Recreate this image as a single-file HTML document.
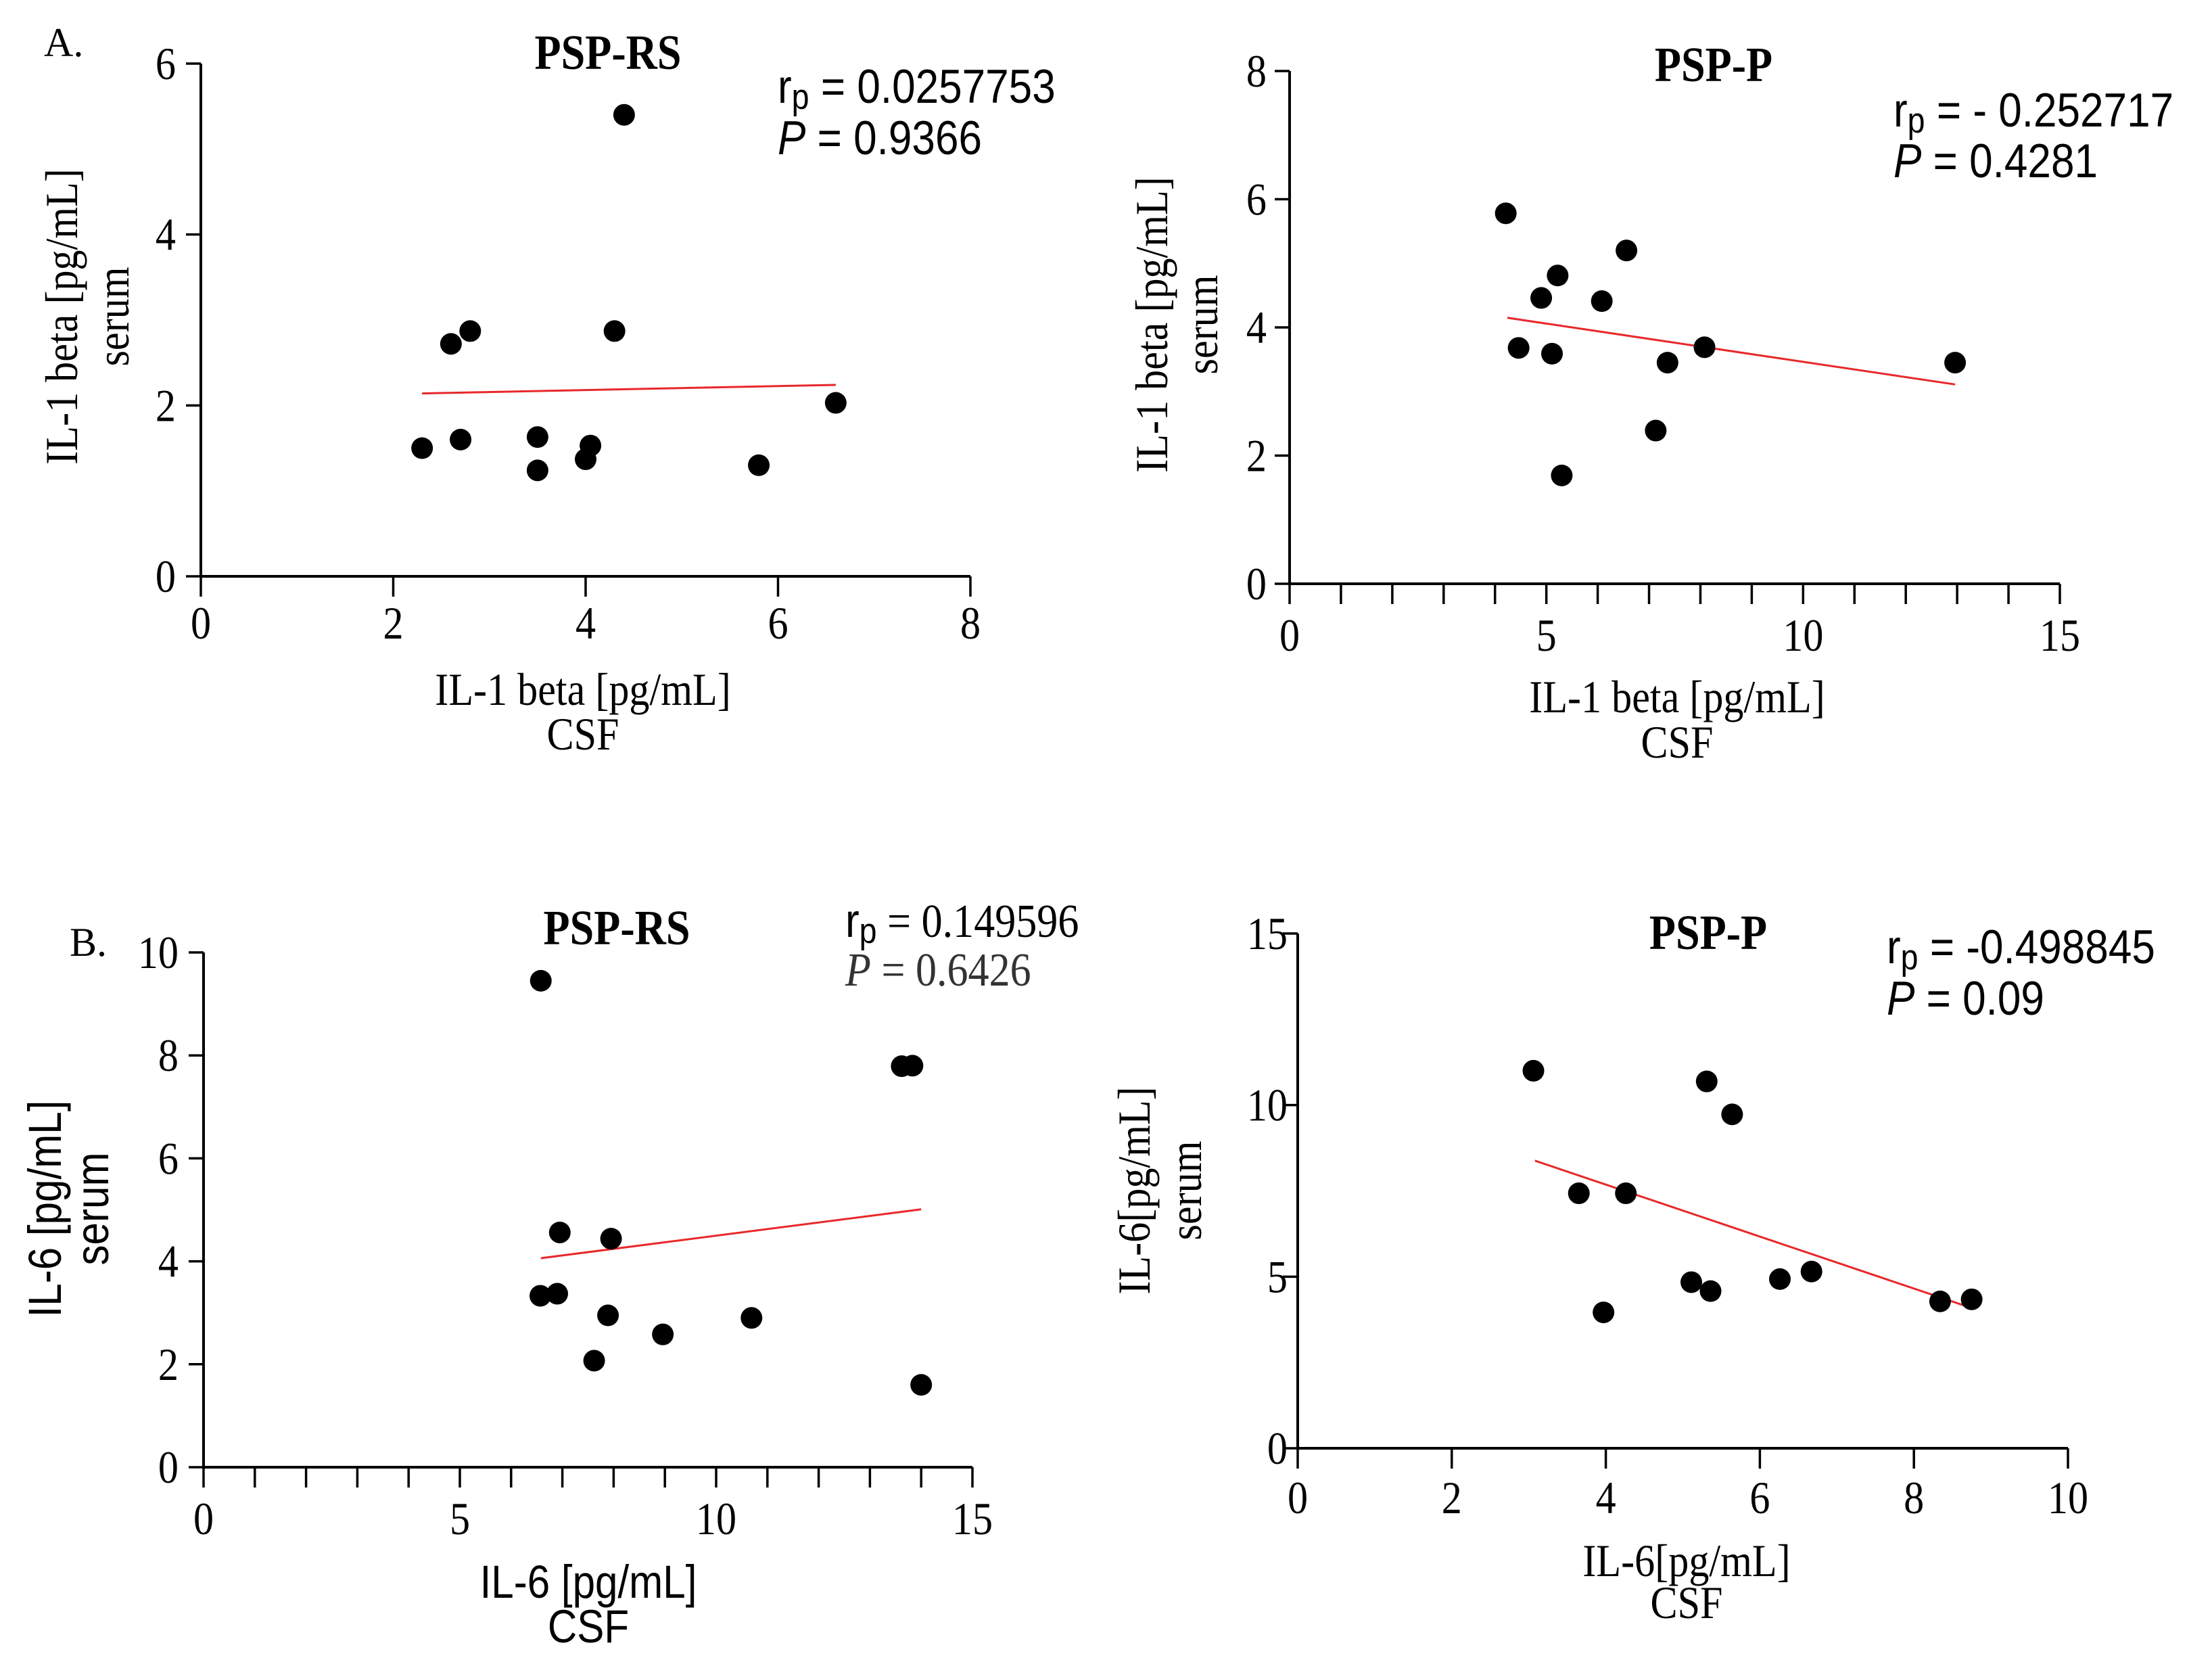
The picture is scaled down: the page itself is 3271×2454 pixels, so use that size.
<!DOCTYPE html>
<html><head><meta charset="utf-8">
<style>
html,body{margin:0;padding:0;background:#fff;}
svg{display:block;}
.serif{font-family:"Liberation Serif",serif;}
.sans{font-family:"Liberation Sans",sans-serif;}
</style></head>
<body>
<svg id="fig" width="3271" height="2454" viewBox="0 0 3271 2454" xmlns="http://www.w3.org/2000/svg">
<text x="65" y="83" class="serif" font-size="60">A.</text>
<text x="103" y="1413" class="serif" font-size="60">B.</text>
</svg>
<script>
// Panel A: IL-1 beta PSP-RS
const aCsf   = [2.3, 2.6, 2.8, 2.7, 3.5, 3.5, 4.3, 4.4, 4.05, 4.0, 5.8, 6.6];
const aSerum = [1.5, 2.72, 2.87, 1.6, 1.63, 1.24, 2.87, 5.4, 1.53, 1.37, 1.3, 2.03];
const aFitX  = [2.3, 6.6];
const aFitY  = [2.14, 2.24];
const aXTicks = [0, 2, 4, 6, 8];
const aYTicks = [0, 2, 4, 6];
// Panel B: IL-1 beta PSP-P
const bCsf   = [4.21, 4.9, 5.22, 6.56, 6.08, 4.46, 5.11, 8.08, 7.36, 12.96, 7.13, 5.3];
const bSerum = [5.78, 4.46, 4.81, 5.2, 4.41, 3.68, 3.59, 3.69, 3.45, 3.45, 2.39, 1.69];
const bFitX  = [4.24, 12.96];
const bFitY  = [4.15, 3.11];
const bXTicks = [0, 5, 10, 15];
const bYTicks = [0, 2, 4, 6, 8];
// Panel C: IL-6 PSP-RS
const cCsf   = [6.58, 6.95, 7.95, 6.57, 6.9, 7.89, 8.96, 10.69, 7.62, 13.62, 13.83, 14.0];
const cSerum = [9.45, 4.56, 4.44, 3.33, 3.37, 2.95, 2.58, 2.9, 2.07, 7.79, 7.8, 1.6];
const cFitX  = [6.58, 14.0];
const cFitY  = [4.06, 5.01];
const cXTicks = [0, 5, 10, 15];
const cYTicks = [0, 2, 4, 6, 8, 10];
// Panel D: IL-6 PSP-P
const dCsf   = [3.06, 5.31, 5.64, 3.65, 4.26, 3.97, 5.11, 5.36, 6.26, 6.67, 8.34, 8.75];
const dSerum = [11.0, 10.69, 9.73, 7.43, 7.43, 3.96, 4.84, 4.58, 4.93, 5.15, 4.28, 4.34];
const dFitX  = [3.08, 8.64];
const dFitY  = [8.38, 4.17];
const dXTicks = [0, 2, 4, 6, 8, 10];
const dYTicks = [0, 5, 10, 15];

const NS = "http://www.w3.org/2000/svg";
const svg = document.getElementById("fig");
function mk(tag, attrs, parent, text){
  const e = document.createElementNS(NS, tag);
  for (const k in attrs) e.setAttribute(k, attrs[k]);
  if (text !== undefined) e.textContent = text;
  (parent || svg).appendChild(e);
  return e;
}
function stretch(x, y){ return `translate(${x},${y}) scale(0.97,1.1)`; }

function panel(p){
  const g = mk("g", {});
  
  
  const sx = v => p.x0 + (v - p.xmin) / (p.xmax - p.xmin) * (p.x1 - p.x0);
  const sy = v => p.y0 - (v - p.ymin) / (p.ymax - p.ymin) * (p.y0 - p.y1);
  const ya = mk("line", {x1:p.x0, y1:p.y1, x2:p.x0, y2:p.y0, stroke:"#000", "stroke-width":4}, g);
  
  
  const xa = mk("line", {x1:p.x0, y1:p.y0, x2:p.x1, y2:p.y0, stroke:"#000", "stroke-width":4}, g);
  
  
  const step = p.minor || (p.xTicks[1]-p.xTicks[0]);
  for (let v = p.xmin; v <= p.xmax + 1e-9; v += step){
    mk("line", {x1:sx(v), y1:p.y0, x2:sx(v), y2:p.y0+30, stroke:"#000", "stroke-width":3.5}, g);
  }
  p.xTicks.forEach(v => {
    const t = mk("text", {x:0, y:0, transform:stretch(sx(v), p.xLabY), "text-anchor":"middle", "font-size":62, class:"serif"}, g, String(v));
    
    
  });
  p.yTicks.forEach(v => {
    mk("line", {x1:p.x0-22, y1:sy(v), x2:p.x0, y2:sy(v), stroke:"#000", "stroke-width":3.5}, g);
    const t = mk("text", {x:0, y:0, transform:stretch(p.yLabX, sy(v)+23), "text-anchor":"end", "font-size":62, class:"serif"}, g, String(v));
    
    
  });
  const fl = mk("line", {x1:sx(p.fx[0]), y1:sy(p.fy[0]), x2:sx(p.fx[1]), y2:sy(p.fy[1]), stroke:"#e8282a", "stroke-width":3}, g);
  
  
  p.xs.forEach((v,i) => {
    const c = mk("circle", {cx:sx(v), cy:sy(p.ys[i]), r:16, fill:"#000"}, g);
    
    
  });
  const ti = mk("text", {x:0, y:0, transform:stretch(p.title[0], p.title[1]+4), "text-anchor":"middle", "font-size":66, "font-weight":"bold", class:"serif"}, g, p.titleText);
  
  
  const s1 = mk("text", {x:0, y:0, transform:stretch(p.stats[0], p.stats[1]), "font-size":64, class:p.statSerif?"serif":"sans"}, g);
  
  
  mk("tspan", {class:"sans"}, s1, "r");
  mk("tspan", {class:"sans", "font-size":48, dy:8}, s1, "p");
  mk("tspan", {dy:-8}, s1, " = " + p.rText);
  const s2 = mk("text", {x:0, y:0, transform:stretch(p.stats[0], p.stats[2]), "font-size":64, class:p.statSerif?"serif":"sans", fill:p.statSerif?"#333":"#000"}, g);
  
  
  mk("tspan", {"font-style":"italic"}, s2, "P");
  mk("tspan", {}, s2, " = " + p.pText);
  const xt = mk("text", {x:0, y:0, transform:stretch(p.xt[0], p.xt[1]), "text-anchor":"middle", "font-size":62, class:p.labSans?"sans":"serif"}, g, p.xLabel);
  
  
  const xt2 = mk("text", {x:0, y:0, transform:stretch(p.xt[0], p.xt[2]), "text-anchor":"middle", "font-size":62, class:p.labSans?"sans":"serif"}, g, "CSF");
  
  
  const yt = mk("text", {x:0, y:0, "text-anchor":"middle", "font-size":62, class:p.labSans?"sans":"serif", transform:`translate(${p.yt[0]},${p.yt[2]}) rotate(-90) scale(0.97,1.1)`}, g, p.yLabel);
  
  
  const yt2 = mk("text", {x:0, y:0, "text-anchor":"middle", "font-size":62, class:p.labSans?"sans":"serif", transform:`translate(${p.yt[1]},${p.yt[2]}) rotate(-90) scale(0.97,1.1)`}, g, "serum");
  
  
}

panel({id:"il1-psp-rs", x0:297, x1:1435, y0:852, y1:94, xmin:0, xmax:8, ymin:0, ymax:6,
  xTicks:aXTicks, yTicks:aYTicks, xs:aCsf, ys:aSerum, fx:aFitX, fy:aFitY,
  xLabY:944, yLabX:260, title:[899,98], titleText:"PSP-RS", stats:[1150,152,228],
  rText:"0.0257753", pText:"0.9366", xt:[862,1042,1108], yt:[114,190,468],
  xLabel:"IL-1 beta [pg/mL]", yLabel:"IL-1 beta [pg/mL]"});
panel({id:"il1-psp-p", x0:1907, x1:3046, y0:863, y1:105, xmin:0, xmax:15, ymin:0, ymax:8, minor:1,
  xTicks:bXTicks, yTicks:bYTicks, xs:bCsf, ys:bSerum, fx:bFitX, fy:bFitY,
  xLabY:962, yLabX:1873, title:[2534,116], titleText:"PSP-P", stats:[2800,187,262],
  rText:"- 0.252717", pText:"0.4281", xt:[2480,1053,1120], yt:[1726,1800,480],
  xLabel:"IL-1 beta [pg/mL]", yLabel:"IL-1 beta [pg/mL]"});
panel({id:"il6-psp-rs", x0:301, x1:1438, y0:2169, y1:1408, xmin:0, xmax:15, ymin:0, ymax:10, minor:1,
  xTicks:cXTicks, yTicks:cYTicks, xs:cCsf, ys:cSerum, fx:cFitX, fy:cFitY,
  xLabY:2268, yLabX:264, title:[912,1392], titleText:"PSP-RS", stats:[1250,1385,1457], statSerif:true, labSans:true,
  rText:"0.149596", pText:"0.6426", xt:[870,2362,2428], yt:[90,160,1787],
  xLabel:"IL-6 [pg/mL]", yLabel:"IL-6 [pg/mL]"});
panel({id:"il6-psp-p", x0:1919, x1:3058, y0:2141, y1:1380, xmin:0, xmax:10, ymin:0, ymax:15,
  xTicks:dXTicks, yTicks:dYTicks, xs:dCsf, ys:dSerum, fx:dFitX, fy:dFitY,
  xLabY:2237, yLabX:1904, title:[2526,1399], titleText:"PSP-P", stats:[2790,1424,1500],
  rText:"-0.498845", pText:"0.09", xt:[2494,2330,2392], yt:[1700,1776,1760],
  xLabel:"IL-6[pg/mL]", yLabel:"IL-6[pg/mL]"});
</script>
</body></html>
